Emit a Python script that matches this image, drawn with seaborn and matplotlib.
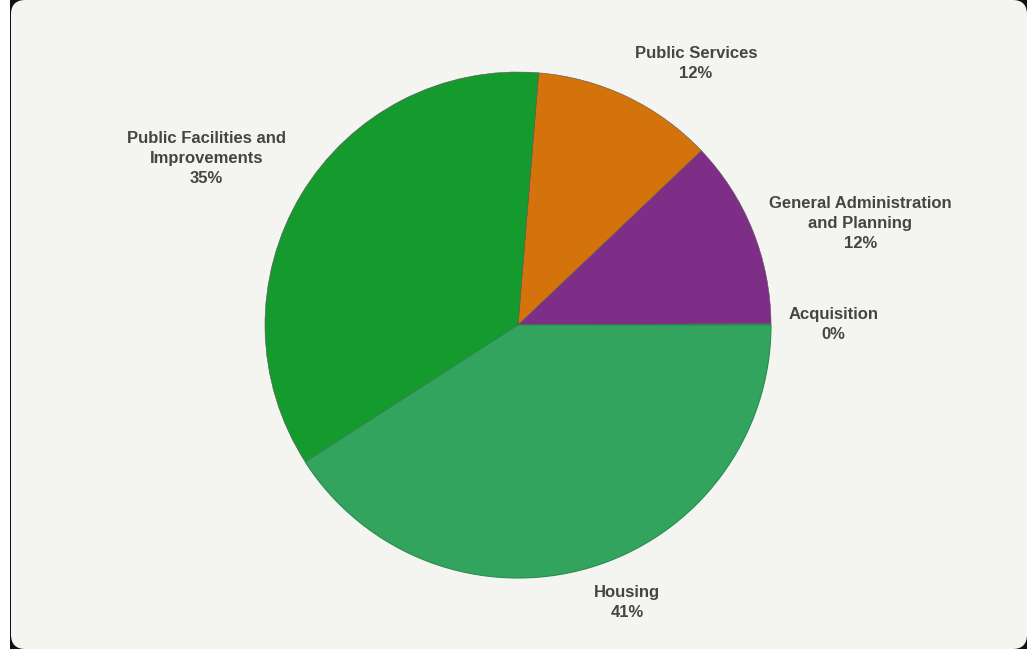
import numpy as np
import matplotlib
matplotlib.use("Agg")
import matplotlib.pyplot as plt
from matplotlib.patches import FancyBboxPatch, Rectangle
import seaborn as sns

categories = ["Acquisition", "General Administration\nand Planning", "Public Services",
              "Public Facilities and\nImprovements", "Housing"]
values = [0.1, 12.0, 11.6, 35.4, 40.9]
pct_labels = ["0%", "12%", "12%", "35%", "41%"]
colors = ["#2f9e5a", "#7f2e87", "#d4720c", "#159a2d", "#33a45e"]

sns.set_theme(style="white")
plt.rcParams["font.family"] = ["Liberation Sans", "DejaVu Sans"]

W, H = 1027, 649
fig = plt.figure(figsize=(W / 100, H / 100), dpi=100, facecolor="white")

# backdrop and card
fig.patches.append(Rectangle((10 / W, 0), 1 - 10 / W, 1, transform=fig.transFigure,
                             facecolor="#111111", edgecolor="none", zorder=-2))
fig.patches.append(FancyBboxPatch((11 / W, 0), (W - 11) / W, 1,
                                  boxstyle="round,pad=0,rounding_size=0.014",
                                  transform=fig.transFigure, mutation_aspect=W / H,
                                  facecolor="#f4f4f0", edgecolor="none", zorder=-1))

cx, cy, R = 518, H - 325, 253
side = 2.5 * R
ax = fig.add_axes([(cx - side / 2) / W, (cy - side / 2) / H, side / W, side / H])
ax.set_zorder(5)
ax.set_facecolor("none")

wedges, _ = ax.pie(values, colors=colors, startangle=0, counterclock=True,
                   wedgeprops=dict(edgecolor="#555555", linewidth=0.4))
ax.set_xlim(-1.25, 1.25)
ax.set_ylim(-1.25, 1.25)
ax.set_aspect("equal")
ax.axis("off")

# rim on housing
wedges[-1].set_edgecolor("#2a8a4e")
wedges[-1].set_linewidth(0.8)

for w, cat, pct in zip(wedges, categories, pct_labels):
    ang = np.deg2rad((w.theta1 + w.theta2) / 2)
    x, y = 1.07 * np.cos(ang), 1.07 * np.sin(ang)
    ha = "left" if x >= 0 else "right"
    s = np.sin(ang)
    va = "bottom" if s > 0.5 else ("top" if s < -0.5 else "center")
    ax.text(x, y, f"{cat}\n{pct}", ha=ha, va=va, multialignment="center",
            fontsize=12, fontweight="bold", color="#454545", linespacing=1.42)

fig.savefig("out.png", dpi=100, facecolor=fig.get_facecolor())
